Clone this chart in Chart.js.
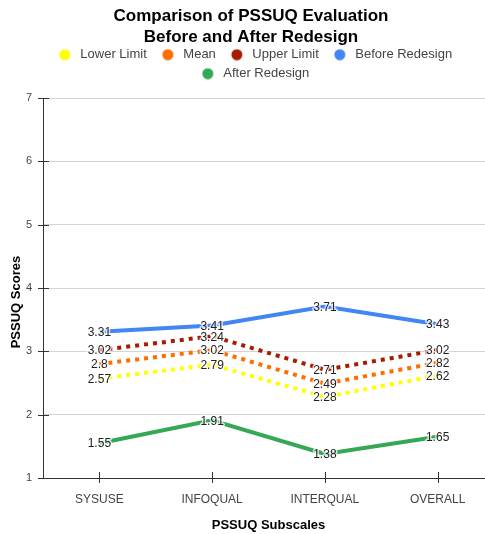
<!DOCTYPE html>
<html>
<head>
<meta charset="utf-8">
<script src="https://cdn.jsdelivr.net/npm/chart.js@4.4.0/dist/chart.umd.min.js"></script>
<style>
  html, body { margin: 0; padding: 0; background: #fff; overflow: hidden; }
  #wrap { width: 505px; height: 534px; }
</style>
</head>
<body>
<div id="wrap"><canvas id="c" width="505" height="534"></canvas></div>
<script>
// PSSUQ subscales and scores
const subscales = ['SYSUSE', 'INFOQUAL', 'INTERQUAL', 'OVERALL'];
const lowerLimit = [2.57, 2.79, 2.28, 2.62];
const meanScore = [2.8, 3.02, 2.49, 2.82];
const upperLimit = [3.02, 3.24, 2.71, 3.02];
const beforeRedesign = [3.31, 3.41, 3.71, 3.43];
const afterRedesign = [1.55, 1.91, 1.38, 1.65];
const yTicks = [1, 2, 3, 4, 5, 6, 7];
const yAxisTitle = 'PSSUQ Scores';

const FONT = '"Liberation Sans", Arial, sans-serif';

// legend marker: a filled dot placed toward the right of a wider transparent box
function legendDot(color) {
  const c = document.createElement('canvas');
  c.width = 24;
  c.height = 12;
  const g = c.getContext('2d');
  g.fillStyle = color;
  g.beginPath();
  g.arc(15, 6, 5.5, 0, Math.PI * 2);
  g.fill();
  return c;
}

// value labels sitting on each point, with a white halo
const valueLabels = {
  id: 'valueLabels',
  afterDatasetsDraw(chart) {
    const ctx = chart.ctx;
    ctx.save();
    ctx.font = '12px ' + FONT;
    ctx.textAlign = 'center';
    ctx.textBaseline = 'middle';
    chart.data.datasets.forEach((ds, i) => {
      const meta = chart.getDatasetMeta(i);
      meta.data.forEach((pt, j) => {
        const txt = String(ds.data[j]);
        ctx.lineWidth = 3;
        ctx.strokeStyle = 'rgba(255,255,255,0.75)';
        ctx.lineJoin = 'round';
        ctx.strokeText(txt, pt.x, pt.y + 1);
        ctx.fillStyle = '#222';
        ctx.fillText(txt, pt.x, pt.y + 1);
      });
    });
    ctx.restore();
  }
};

// small tick marks crossing both axis lines, plus the rotated y-axis title
const axisDecor = {
  id: 'axisDecor',
  afterDraw(chart) {
    const ctx = chart.ctx;
    const xs = chart.scales.x, ys = chart.scales.y;
    ctx.save();
    ctx.strokeStyle = '#333';
    ctx.lineWidth = 1;
    ctx.beginPath();
    yTicks.forEach(v => {
      const py = Math.round(ys.getPixelForValue(v)) + 0.5;
      ctx.moveTo(xs.left - 5, py);
      ctx.lineTo(xs.left + 6, py);
    });
    subscales.forEach((s, i) => {
      const px = Math.round(xs.getPixelForValue(i)) + 0.5;
      ctx.moveTo(px, ys.bottom - 6);
      ctx.lineTo(px, ys.bottom + 5);
    });
    ctx.stroke();

    ctx.translate(16, (ys.top + ys.bottom) / 2 + 14);
    ctx.rotate(-Math.PI / 2);
    ctx.font = 'bold 13px ' + FONT;
    ctx.fillStyle = '#000';
    ctx.textAlign = 'center';
    ctx.textBaseline = 'middle';
    ctx.fillText(yAxisTitle, 0, 0);
    ctx.restore();
  }
};

function lineSet(label, data, color, dotted) {
  return {
    label,
    data,
    borderColor: color,
    backgroundColor: color,
    borderWidth: 4,
    borderDash: dotted ? [4, 5] : [],
    pointRadius: 0,
    pointHoverRadius: 0,
    pointStyle: legendDot(color),
    fill: false,
    tension: 0
  };
}

new Chart(document.getElementById('c'), {
  type: 'line',
  data: {
    labels: subscales,
    datasets: [
      lineSet('Lower Limit', lowerLimit, '#ffff00', true),
      lineSet('Mean', meanScore, '#ff6d01', true),
      lineSet('Upper Limit', upperLimit, '#a61c00', true),
      lineSet('Before Redesign', beforeRedesign, '#4285f4', false),
      lineSet('After Redesign', afterRedesign, '#34a853', false)
    ]
  },
  options: {
    responsive: false,
    animation: false,
    layout: { padding: { left: 8, right: 11, top: 6, bottom: 1 } },
    plugins: {
      title: {
        display: true,
        text: ['Comparison of PSSUQ Evaluation', 'Before and After Redesign'],
        color: '#000',
        font: { family: FONT, size: 17, weight: 'bold', lineHeight: 1.24 },
        padding: { top: 0, bottom: -6 }
      },
      // empty spacer box placed below the legend
      subtitle: {
        display: true,
        text: '',
        weight: 500,
        font: { size: 1, lineHeight: 1 },
        padding: { top: 0, bottom: 7 }
      },
      legend: {
        display: true,
        labels: {
          usePointStyle: true,
          boxWidth: 8,
          boxHeight: 8,
          pointStyleWidth: 24,
          padding: 6,
          color: '#444',
          font: { family: FONT, size: 13 }
        }
      },
      tooltip: { enabled: false }
    },
    scales: {
      x: {
        offset: true,
        grid: { display: false, drawTicks: false },
        border: { display: true, color: '#333', width: 1 },
        ticks: { color: '#444', font: { family: FONT, size: 12 }, padding: 14 },
        title: {
          display: true,
          text: 'PSSUQ Subscales',
          color: '#000',
          font: { family: FONT, size: 13, weight: 'bold' },
          padding: { top: -3, bottom: 0 }
        }
      },
      y: {
        min: 1,
        max: 7,
        afterBuildTicks(scale) { scale.ticks = yTicks.map(v => ({ value: v })); },
        afterFit(scale) { scale.width = 35; },
        grid: { color: '#d4d4d4', drawTicks: false },
        border: { display: true, color: '#333', width: 1 },
        ticks: { color: '#444', font: { family: FONT, size: 11 }, padding: 11 },
        title: { display: false }
      }
    }
  },
  plugins: [valueLabels, axisDecor]
});
</script>
</body>
</html>
